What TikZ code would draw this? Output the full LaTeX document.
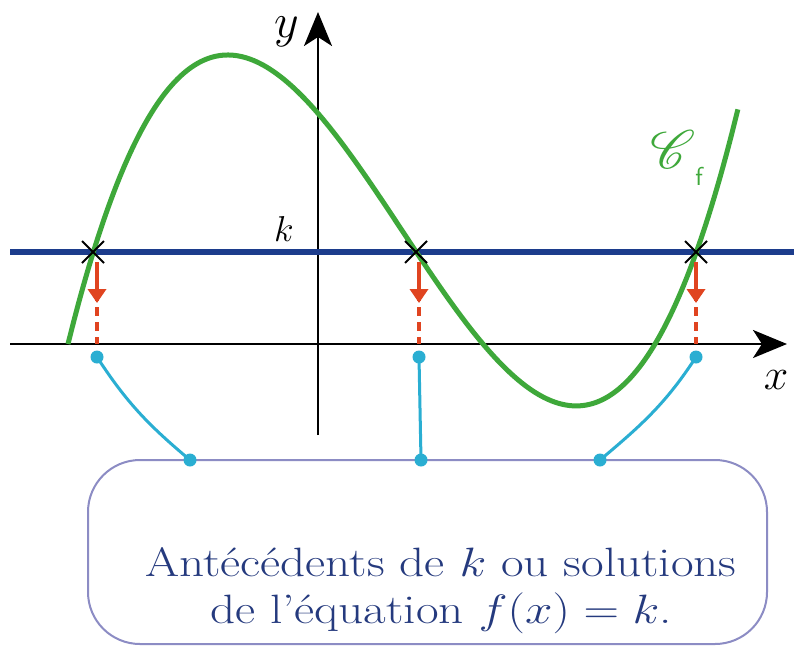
\RequirePackage{fix-cm}
\documentclass[tikz,border=0pt]{standalone}
\usepackage{amsmath}
\usepackage{mathrsfs}
\usepackage{graphicx}
\usetikzlibrary{arrows.meta}
\definecolor{kblue}{HTML}{1C3C8C}
\definecolor{cgreen}{HTML}{3EA83A}
\definecolor{ared}{HTML}{E04420}
\definecolor{ccyan}{HTML}{2AAED2}
\definecolor{boxc}{HTML}{8C8CC4}
\definecolor{tblue}{HTML}{253A7E}
\tikzset{
  axis/.style={line width=2.5pt, -{Stealth[length=34pt,width=28pt,inset=9pt]}},
  kline/.style={kblue, line width=6pt},
  curve/.style={cgreen, line width=5pt},
  cross/.style={black, line width=2pt},
  dashr/.style={ared, line width=4.5pt, dash pattern=on 9pt off 6pt},
  arrr/.style={ared, line width=4.5pt, -{Triangle[length=14pt,width=18pt]}},
  link/.style={ccyan, line width=3pt},
  dot/.style={circle, fill=ccyan, inner sep=0pt, minimum size=13pt},
  bigbox/.style={draw=boxc, line width=2pt, rounded corners=52pt},
}
\begin{document}
\begin{tikzpicture}[x=1pt,y=-1pt]
\useasboundingbox[fill=white] (0,0) rectangle (794,648);
% axes
\coordinate (xs) at (10,344);
\coordinate (xe) at (787,344);
\coordinate (ys) at (318,435);
\coordinate (ye) at (318,12);
\draw[axis] (xs) -- (xe);
\draw[axis] (ys) -- (ye);
\node[font=\fontsize{48}{48}\selectfont] (ylab) at (287,32) {$y$};
\node[font=\fontsize{44}{44}\selectfont] (xlab) at (776,380) {$x$};
% k line
\coordinate (ks) at (10,252);
\coordinate (ke) at (794,252);
\draw[kline] (ks) -- (ke);
\node[font=\fontsize{36}{36}\selectfont] (klab) at (284,229) {$k$};
% curve
\draw[curve] plot[domain=0.68:7.38, samples=120, smooth, variable=\t]
  ({100*\t},{344-16.59*(\t-0.68)*(\t-4.83)*(\t-6.55)});
\node[cgreen, inner sep=0pt] (cf) at (673,150) {\scalebox{5.4}{$\mathscr{C}$}};
\node[cgreen, inner sep=0pt, font=\sffamily\fontsize{26}{26}\selectfont] (cfsub) at (699,176) {f};
% intersections
\foreach \i/\px/\dx in {1/93/97, 2/416/419, 3/696/696}{
  \coordinate (p\i) at (\px,252);
  \coordinate (a\i) at (\dx,262);
  \coordinate (m\i) at (\dx,303);
  \coordinate (b\i) at (\dx,344);
  \node[dot] (d\i) at (\dx,357) {};
  \draw[dashr] (a\i) -- (b\i);
  \draw[arrr] (a\i) -- (m\i);
  \draw[cross] ([shift={(-11,-11)}]p\i) -- ([shift={(11,11)}]p\i);
  \draw[cross] ([shift={(-11,11)}]p\i) -- ([shift={(11,-11)}]p\i);
}
% box
\draw[bigbox] (88,460) rectangle (767,644);
\node[tblue, align=center, font=\fontsize{41}{47}\selectfont, xscale=1.2] (txt) at (441,591)
  {Antécédents de $k$ ou solutions\\de l'équation $f(x)=k$.};
\node[dot] (e1) at (190,460) {};
\node[dot] (e2) at (421,460) {};
\node[dot] (e3) at (600,460) {};
\draw[link] (d1.center) to[out=-57,in=140] (e1.center);
\draw[link] (d2.center) -- (e2.center);
\draw[link] (d3.center) to[out=-123,in=40] (e3.center);
\end{tikzpicture}
\end{document}
